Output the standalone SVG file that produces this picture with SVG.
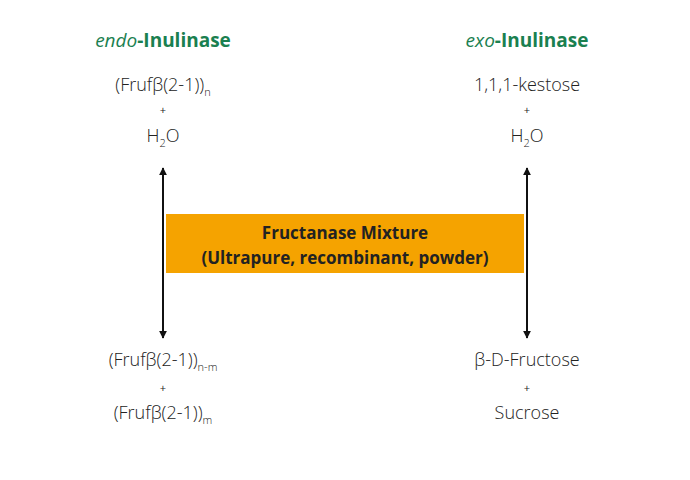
<svg xmlns="http://www.w3.org/2000/svg" width="690" height="480" viewBox="0 0 690 480">
<style>
.t{font-family:"Open Sans","Liberation Sans",sans-serif;font-weight:300;font-size:18px;fill:#222;text-anchor:middle}
.p{font-family:"Open Sans","Liberation Sans",sans-serif;font-size:11px;fill:#222;text-anchor:middle}
.s{font-size:11px}
.h{font-family:"Open Sans","Liberation Sans",sans-serif;font-weight:700;font-size:19px;fill:#1a8050;text-anchor:middle}
.b{font-family:"Open Sans","Liberation Sans",sans-serif;font-weight:700;font-size:17px;fill:#222;text-anchor:middle}
.a{stroke:#111;stroke-width:2;marker-start:url(#m);marker-end:url(#m)}
</style>
<defs><marker id="m" viewBox="0 0 10 10" refX="9" refY="5" markerWidth="4" markerHeight="4" orient="auto-start-reverse"><path d="M0,0L10,5L0,10z" fill="#111"/></marker></defs>
<g id="endo-title"><text class="h" x="163" y="47"><tspan font-style="italic" font-weight="400">endo</tspan>-Inulinase</text></g>
<g id="exo-title"><text class="h" x="527" y="47"><tspan font-style="italic" font-weight="400">exo</tspan>-Inulinase</text></g>
<g id="endo-substrate"><text class="t" x="163" y="91">(Frufβ(2-1))<tspan class="s" dy="5">n</tspan></text><text class="p" x="163" y="114">+</text><text class="t" x="163" y="142">H<tspan class="s" dy="5">2</tspan><tspan dy="-5">O</tspan></text></g>
<g id="exo-substrate"><text class="t" x="527" y="91">1,1,1-kestose</text><text class="p" x="527" y="114">+</text><text class="t" x="527" y="142">H<tspan class="s" dy="5">2</tspan><tspan dy="-5">O</tspan></text></g>
<g id="endo-products"><text class="t" x="163" y="366">(Frufβ(2-1))<tspan class="s" dy="5">n-m</tspan></text><text class="p" x="163" y="392">+</text><text class="t" x="163" y="419">(Frufβ(2-1))<tspan class="s" dy="5">m</tspan></text></g>
<g id="exo-products"><text class="t" x="527" y="366">β-D-Fructose</text><text class="p" x="527" y="392">+</text><text class="t" x="527" y="419">Sucrose</text></g>
<g id="connectors"><line class="a" x1="163" y1="168" x2="163" y2="338"/><line class="a" x1="527" y1="168" x2="527" y2="338"/></g>
<g id="mixture"><rect x="166" y="214" width="358" height="59" fill="#f5a300"/><text class="b" x="345" y="239">Fructanase Mixture</text><text class="b" x="345" y="264">(Ultrapure, recombinant, powder)</text></g>
</svg>
